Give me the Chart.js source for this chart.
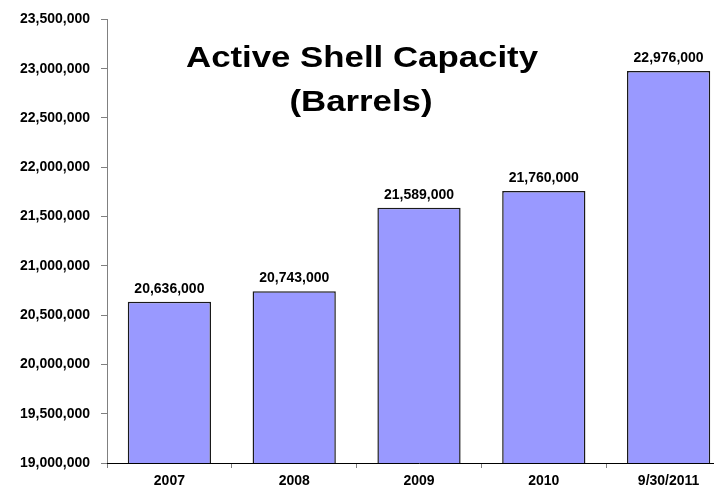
<!DOCTYPE html>
<html>
<head>
<meta charset="utf-8">
<script src="https://cdn.jsdelivr.net/npm/chart.js@4/dist/chart.umd.min.js"></script>
<style>
  html, body { margin: 0; padding: 0; overflow: hidden; background: #fff; }
  #wrap { width: 731px; height: 488px; }
</style>
</head>
<body>
<div id="wrap"><canvas id="c" width="731" height="488"></canvas></div>
<script>
const categories = ["2007", "2008", "2009", "2010", "9/30/2011"];
const capacity = [20636000, 20743000, 21589000, 21760000, 22976000];
const titleLines = ["Active Shell Capacity", "(Barrels)"];

const fmt = v => v.toLocaleString("en-US");
const FONT = "'Liberation Sans', Arial, sans-serif";

function stretchText(ctx, text, cx, y, targetWidth) {
  const w = ctx.measureText(text).width;
  const s = targetWidth / w;
  ctx.save();
  ctx.translate(cx, y);
  ctx.scale(s, 1);
  ctx.textAlign = "center";
  ctx.fillText(text, 0, 0);
  ctx.restore();
}

const labelPlugin = {
  id: "labels",
  afterDatasetsDraw(chart) {
    const ctx = chart.ctx;
    ctx.save();
    ctx.font = "bold 14px " + FONT;
    ctx.fillStyle = "#000";
    ctx.textAlign = "center";
    ctx.textBaseline = "alphabetic";
    chart.getDatasetMeta(0).data.forEach((bar, i) => {
      ctx.fillText(fmt(capacity[i]), bar.x, bar.y - 9);
    });
    ctx.font = "bold 30px " + FONT;
    stretchText(ctx, titleLines[0], 362, 67, 352);
    const w1 = ctx.measureText(titleLines[1]).width;
    stretchText(ctx, titleLines[1], 361, 111, w1 * 352 / ctx.measureText(titleLines[0]).width);
    ctx.restore();
  }
};

new Chart(document.getElementById("c"), {
  type: "bar",
  data: {
    labels: categories,
    datasets: [{
      data: capacity,
      backgroundColor: "#9999FF",
      borderColor: "#1a1a1a",
      borderWidth: 1.5,
      barPercentage: 0.667,
      categoryPercentage: 1
    }]
  },
  options: {
    responsive: false,
    animation: false,
    layout: { padding: { top: 18, left: 0, right: 0, bottom: 0 } },
    plugins: { legend: { display: false }, tooltip: { enabled: false }, title: { display: false } },
    scales: {
      y: {
        min: 19000000,
        max: 23500000,
        ticks: {
          stepSize: 500000,
          color: "#000",
          font: { family: FONT, size: 14, weight: "bold" },
          padding: 11,
          callback: v => fmt(v)
        },
        grid: { drawOnChartArea: false, drawTicks: true, tickLength: 6, color: "#808080" },
        border: { color: "#808080", width: 1 },
        afterFit: s => { s.width = 107; }
      },
      x: {
        offset: true,
        ticks: {
          color: "#000",
          font: { family: FONT, size: 14, weight: "bold" },
          padding: 5,
          maxRotation: 0
        },
        grid: { offset: true, drawOnChartArea: false, drawTicks: true, tickLength: 5, color: "#808080" },
        border: { color: "#000", width: 1 },
        afterFit: s => { s.height = 25; }
      }
    }
  },
  plugins: [labelPlugin]
});
</script>
</body>
</html>
